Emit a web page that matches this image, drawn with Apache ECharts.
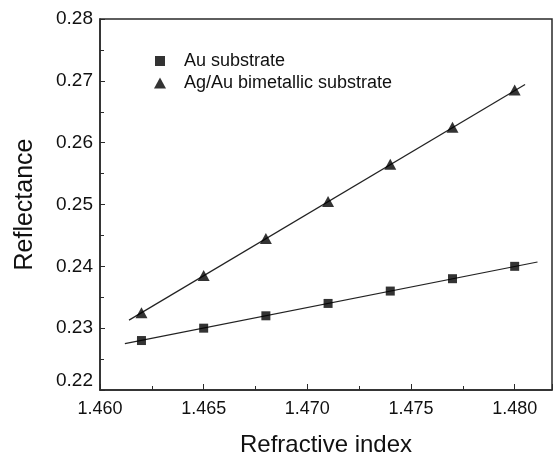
<!DOCTYPE html>
<html>
<head>
<meta charset="utf-8">
<script src="https://cdn.jsdelivr.net/npm/echarts@6/dist/echarts.min.js"></script>
<style>
  html, body { margin: 0; padding: 0; background: #fff; }
  #chart { width: 553px; height: 456px; }
</style>
</head>
<body>
<div id="chart"></div>
<script>
const refractiveIndex = [1.462, 1.465, 1.468, 1.471, 1.474, 1.477, 1.480]
const auReflect = [0.228, 0.230, 0.232, 0.234, 0.236, 0.238, 0.240]
const agAuReflect = [0.2325, 0.2385, 0.2445, 0.2505, 0.2565, 0.2625, 0.2685]
// fitted lines, end points
const auFit = [[1.4612, 0.2275], [1.4811, 0.2407]]
const agAuFit = [[1.4614, 0.2313], [1.4805, 0.2694]]
const xTicks = [1.460, 1.465, 1.470, 1.475, 1.480]
const yTicks = [0.22, 0.23, 0.24, 0.25, 0.26, 0.27, 0.28]

const font = 'Liberation Sans, Arial, sans-serif'
const ink = '#111'

const pairs = (ys) => refractiveIndex.map((x, i) => [x, ys[i]])

const chart = echarts.init(document.getElementById('chart'))
chart.setOption({
  animation: false,
  grid: {
    left: 100, top: 19, right: 1, bottom: 66,
    outerBoundsMode: 'none',
    show: true, borderColor: '#2a2a2a', borderWidth: 1.5
  },
  legend: [
    {
      data: ['Au substrate'],
      left: 150, top: 47,
      icon: 'rect', itemWidth: 10, itemHeight: 10,
      textStyle: { fontFamily: font, fontSize: 18, color: ink, padding: [0, 0, 0, 14] }
    },
    {
      data: ['Ag/Au bimetallic substrate'],
      left: 149, top: 69,
      icon: 'triangle', itemWidth: 12, itemHeight: 11,
      textStyle: { fontFamily: font, fontSize: 18, color: ink, padding: [0, 0, 0, 13] }
    }
  ],
  xAxis: [
    {
      type: 'value', min: 1.460, max: 1.4818, interval: 0.005,
      name: 'Refractive index', nameLocation: 'middle', nameGap: 43,
      nameTextStyle: { fontFamily: font, fontSize: 24, color: ink },
      splitLine: { show: false },
      axisLine: { lineStyle: { color: '#2a2a2a', width: 1.5 } },
      axisTick: { inside: true, length: 6, lineStyle: { color: '#2a2a2a' } },
      axisLabel: {
        margin: 10, fontFamily: font, fontSize: 18, color: ink,
        formatter: (v) => xTicks.some((t) => Math.abs(t - v) < 1e-9) ? v.toFixed(3) : ''
      }
    },
    {
      // minor ticks only
      type: 'value', min: 1.460, max: 1.4818, interval: 0.0025, position: 'bottom',
      splitLine: { show: false }, axisLine: { show: false }, axisLabel: { show: false },
      axisTick: { inside: true, length: 4, lineStyle: { color: '#2a2a2a' } }
    }
  ],
  yAxis: {
    type: 'value', min: 0.22, max: 0.28, interval: 0.01,
    name: 'Reflectance', nameLocation: 'middle', nameGap: 62,
    nameTextStyle: { fontFamily: font, fontSize: 25, color: ink },
    splitLine: { show: false },
    axisLine: { lineStyle: { color: '#2a2a2a', width: 1.5 } },
    axisTick: { inside: true, length: 5, lineStyle: { color: '#2a2a2a' } },
    minorTick: { show: true, splitNumber: 2, length: 4, lineStyle: { color: '#2a2a2a' } },
    axisLabel: {
      margin: 7, fontFamily: font, fontSize: 19, color: ink,
      formatter: (v) => {
        const t = yTicks.find((y) => Math.abs(y - v) < 1e-9)
        if (t === undefined) return ''
        return t === yTicks[0] ? '{lo|' + t.toFixed(2) + '}' : t.toFixed(2)
      },
      rich: { lo: { fontFamily: font, fontSize: 19, color: ink, padding: [0, 0, 18, 0] } }
    }
  },
  series: [
    {
      name: 'Au substrate', type: 'scatter', symbol: 'rect', symbolSize: 9,
      itemStyle: { color: '#000' }, data: pairs(auReflect), z: 3
    },
    {
      name: 'Ag/Au bimetallic substrate', type: 'scatter', symbol: 'triangle', symbolSize: [12, 11],
      itemStyle: { color: '#000' }, data: pairs(agAuReflect), z: 3
    },
    {
      type: 'line', data: auFit, symbol: 'none', silent: true,
      lineStyle: { color: '#222', width: 1.2 }
    },
    {
      type: 'line', data: agAuFit, symbol: 'none', silent: true,
      lineStyle: { color: '#222', width: 1.2 }
    }
  ]
})
</script>
</body>
</html>
